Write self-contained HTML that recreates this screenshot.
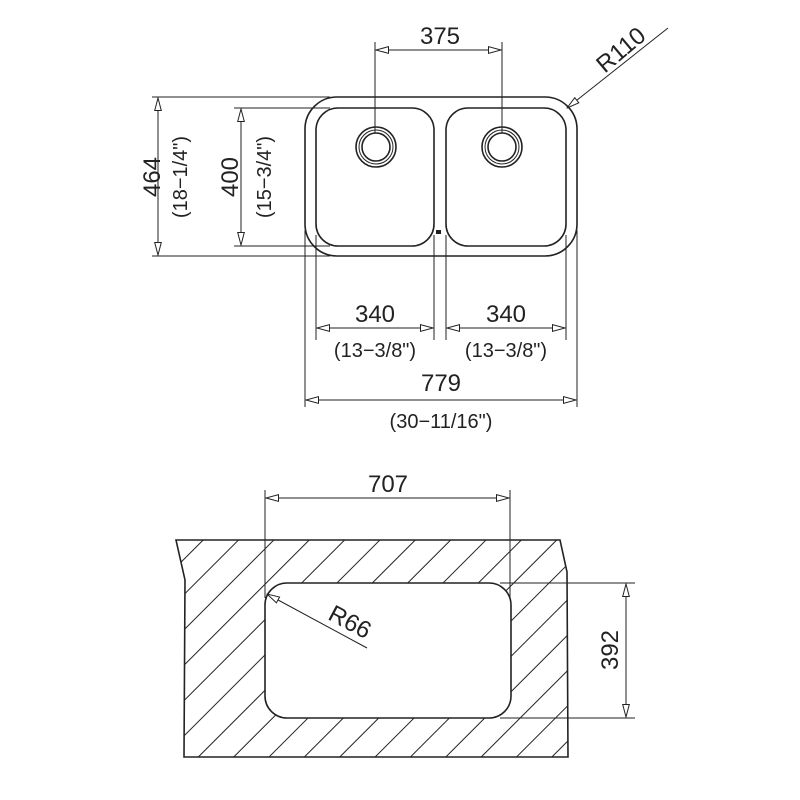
<!DOCTYPE html>
<html><head><style>body{margin:0;background:#fff}svg{display:block}</style></head><body>
<svg width="800" height="800" viewBox="0 0 800 800" xmlns="http://www.w3.org/2000/svg" font-family="Liberation Sans, sans-serif">
<defs>
<marker id="a" viewBox="0 0 14 8" refX="13.5" refY="4" markerWidth="14" markerHeight="8" markerUnits="userSpaceOnUse" orient="auto-start-reverse">
<path d="M13.5,4 L1,0.7 L1,7.3 Z" fill="#fff" stroke="#222" stroke-width="1"/>
</marker>
<pattern id="h" patternUnits="userSpaceOnUse" width="25" height="25" patternTransform="rotate(45)">
<line x1="0" y1="0" x2="0" y2="25" stroke="#222" stroke-width="2"/>
</pattern>
<clipPath id="c"><path d="M176,540 L560,540 L567,572 L568,757 L184,757 L185,580 Z"/></clipPath>
</defs>
<g fill="none" stroke="#222" stroke-width="1.6">
<rect x="305" y="97" width="272" height="159" rx="32"/>
<rect x="316" y="108" width="118" height="138" rx="22"/>
<rect x="446" y="108" width="120" height="138" rx="22"/>
<circle cx="376" cy="147" r="20"/><circle cx="376" cy="147" r="17" stroke-width="1"/><circle cx="376" cy="147" r="14"/>
<circle cx="502" cy="147" r="20"/><circle cx="502" cy="147" r="17" stroke-width="1"/><circle cx="502" cy="147" r="14"/>
</g>
<rect x="436" y="230" width="5" height="4" fill="#222"/>
<g stroke="#222" stroke-width="1" fill="none">
<line x1="375" y1="42" x2="375" y2="133"/><line x1="502" y1="42" x2="502" y2="133"/>
<line x1="376" y1="50" x2="501" y2="50" marker-start="url(#a)" marker-end="url(#a)"/>
<line x1="567" y1="108" x2="668" y2="28" marker-start="url(#a)"/>
<line x1="152" y1="97" x2="330" y2="97"/><line x1="152" y1="256" x2="330" y2="256"/>
<line x1="158" y1="98" x2="158" y2="255" marker-start="url(#a)" marker-end="url(#a)"/>
<line x1="234" y1="108" x2="330" y2="108"/><line x1="234" y1="246" x2="330" y2="246"/>
<line x1="241" y1="109" x2="241" y2="245" marker-start="url(#a)" marker-end="url(#a)"/>
<line x1="316" y1="235" x2="316" y2="340"/><line x1="434" y1="235" x2="434" y2="340"/>
<line x1="446" y1="235" x2="446" y2="340"/><line x1="566" y1="235" x2="566" y2="340"/>
<line x1="317" y1="328" x2="433" y2="328" marker-start="url(#a)" marker-end="url(#a)"/>
<line x1="447" y1="328" x2="565" y2="328" marker-start="url(#a)" marker-end="url(#a)"/>
<line x1="305" y1="230" x2="305" y2="407"/><line x1="577" y1="230" x2="577" y2="407"/>
<line x1="306" y1="400" x2="576" y2="400" marker-start="url(#a)" marker-end="url(#a)"/>
</g>
<g clip-path="url(#c)">
<path d="M176,540 L560,540 L567,572 L568,757 L184,757 L185,580 Z" fill="url(#h)"/>
</g>
<g fill="none" stroke="#222" stroke-width="1.6">
<path d="M176,540 L560,540 L567,572 L568,757 L184,757 L185,580 Z"/>
<rect x="265" y="583" width="246" height="135" rx="22" fill="#fff"/>
</g>
<g stroke="#222" stroke-width="1" fill="none">
<line x1="265" y1="490" x2="265" y2="598"/><line x1="510" y1="490" x2="510" y2="598"/>
<line x1="266" y1="498" x2="509" y2="498" marker-start="url(#a)" marker-end="url(#a)"/>
<line x1="500" y1="583" x2="635" y2="583"/><line x1="500" y1="718" x2="635" y2="718"/>
<line x1="626" y1="584" x2="626" y2="717" marker-start="url(#a)" marker-end="url(#a)"/>
<line x1="267" y1="594" x2="367" y2="648" marker-start="url(#a)"/>
</g>
<g fill="#222" font-size="24" text-anchor="middle">
<text x="440" y="44">375</text>
<text x="626" y="56" transform="rotate(-40 626 56)">R110</text>
<text x="152" y="177" transform="rotate(-90 152 177)" dy="8">464</text>
<text x="180" y="177" transform="rotate(-90 180 177)" dy="7" font-size="20">(18−1/4")</text>
<text x="230" y="177" transform="rotate(-90 230 177)" dy="8">400</text>
<text x="264" y="177" transform="rotate(-90 264 177)" dy="7" font-size="20">(15−3/4")</text>
<text x="375" y="322">340</text><text x="506" y="322">340</text>
<text x="375" y="357" font-size="20">(13−3/8")</text><text x="506" y="357" font-size="20">(13−3/8")</text>
<text x="441" y="391">779</text>
<text x="441" y="428" font-size="20">(30−11/16")</text>
<text x="388" y="492">707</text>
<text x="610" y="650" transform="rotate(-90 610 650)" dy="8">392</text>
<text x="350" y="622" transform="rotate(28 350 622)" dy="8">R66</text>
</g>
</svg>
</body></html>
